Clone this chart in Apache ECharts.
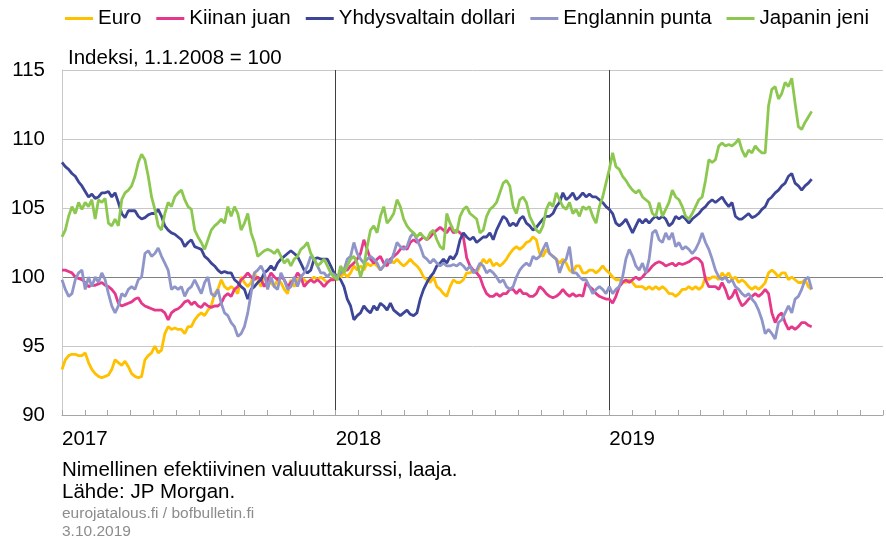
<!DOCTYPE html>
<html>
<head>
<meta charset="utf-8">
<script src="https://cdn.jsdelivr.net/npm/echarts@6/dist/echarts.min.js"></script>
<style>
  html, body { margin: 0; padding: 0; background: #fff; }
  #chart { width: 886px; height: 540px; }
</style>
</head>
<body>
<div id="chart"></div>
<script>
// x is in months from 1.1.2017, points roughly every 4.4 days
var stepMonths = 0.14545;
var yearLabels = ['2017', '2018', '2019'];
var seriesNames = ['Euro', 'Kiinan juan', 'Yhdysvaltain dollari', 'Englannin punta', 'Japanin jeni'];
var seriesColors = ['#ffc000', '#e5388a', '#3d4597', '#8f95c9', '#8cc84f'];

var euro = [
    93.3, 94.0, 94.3, 94.4, 94.4, 94.3, 94.3, 94.5, 93.8, 93.3, 93.0, 92.8, 92.7, 92.8, 92.9, 93.3, 94.0, 93.8, 93.6, 93.9, 93.5, 93.0, 92.8, 92.7, 92.8, 94.0, 94.3, 94.5, 95.0, 94.5, 94.7, 95.9, 96.4, 96.2, 96.3, 96.2, 96.2, 95.9, 96.4,
    96.4, 96.9, 97.2, 97.4, 97.2, 97.6, 97.9, 98.8, 99.1, 99.8, 99.3, 99.1, 99.3, 99.1, 98.8, 100.0, 99.6, 99.3, 99.6, 100.3, 99.8, 99.3, 100.0, 99.8, 99.6, 99.3, 99.8, 99.6, 99.1, 98.8, 99.8, 99.3, 99.8, 100.0, 99.8, 99.6, 99.8, 100.0, 99.8, 100.0,
    99.8, 99.6, 99.8, 100.0, 99.8, 100.0, 100.3, 100.0, 100.3, 100.8, 100.5, 100.8, 100.5, 101.0, 100.8, 101.0, 100.8, 100.5, 100.8, 101.0, 101.3, 101.0, 101.3, 101.0, 100.8, 101.0, 101.3, 101.0, 100.8, 100.5, 100.0, 99.8, 99.6, 100.0, 99.3, 99.1, 98.8, 98.6, 99.3, 99.8, 99.6,
    99.6, 99.8, 100.3, 100.3, 100.5, 100.3, 100.8, 101.3, 101.0, 101.3, 100.8, 101.0, 100.8, 101.0, 101.3, 101.7, 102.0, 102.2, 102.0, 102.2, 102.5, 102.6, 102.9, 102.7, 101.7, 101.5, 102.0, 101.7, 101.5, 101.3, 101.0, 101.3, 101.0, 100.5, 100.3, 100.8, 100.8, 100.3, 100.3, 100.5,
    100.5, 100.3, 100.5, 100.8, 100.5, 100.3, 100.0, 99.8, 99.8, 99.7, 99.6, 99.8, 99.6, 99.3, 99.3, 99.3, 99.1, 99.3, 99.1, 99.3, 99.1, 99.3, 99.1, 98.8, 98.8, 98.6, 98.8, 99.1, 99.1, 99.3, 99.1, 99.3, 99.1, 99.3, 100.0, 99.8, 100.0, 100.0,
    99.8, 100.3, 100.0, 100.3, 99.8, 100.0, 99.6, 99.8, 99.6, 99.3, 99.1, 99.3, 99.1, 99.3, 99.6, 100.3, 100.5, 100.3, 100.0, 100.3, 100.3, 99.8, 100.0, 99.8, 99.6, 99.6, 99.8, 99.3, 99.1
];

var juan = [
    100.5, 100.5, 100.4, 100.3, 100.0, 99.9, 99.8, 99.6, 99.3, 99.4, 99.4, 99.5, 99.6, 99.4, 99.3, 99.1, 98.8, 98.1, 97.9, 98.0, 98.1, 98.2, 98.4, 98.5, 98.1, 97.9, 97.8, 97.7, 97.6, 97.6, 97.6, 97.4, 96.9, 97.4, 97.6, 97.7, 97.9, 98.2, 98.3,
    98.0, 98.2, 97.9, 97.8, 98.1, 97.9, 97.8, 97.9, 97.9, 98.1, 98.6, 98.8, 98.6, 99.1, 99.3, 99.8, 100.0, 100.3, 100.0, 99.8, 100.0, 99.8, 99.3, 99.8, 100.3, 100.0, 99.8, 100.0, 99.8, 99.3, 99.6, 99.8, 100.3, 100.0, 99.3, 99.6, 99.8, 99.6, 99.8, 99.6,
    99.3, 99.6, 99.8, 99.8, 100.0, 100.3, 100.5, 100.5, 100.8, 101.0, 101.3, 101.7, 102.7, 102.0, 101.3, 101.0, 101.3, 101.5, 101.0, 100.8, 101.3, 101.5, 101.7, 102.0, 102.2, 102.0, 102.5, 102.7, 102.5, 102.7, 102.9, 102.7, 102.9, 103.2, 103.4, 103.6, 103.4, 103.2, 103.6, 103.2, 103.4,
    103.2, 102.9, 101.4, 100.8, 100.5, 100.3, 100.0, 99.3, 98.8, 98.6, 98.6, 98.8, 98.6, 98.8, 98.8, 99.1, 99.1, 98.8, 99.1, 98.8, 98.8, 98.6, 98.6, 98.8, 99.3, 99.1, 98.8, 98.6, 98.5, 98.6, 98.8, 99.1, 98.8, 98.6, 98.8, 98.6, 98.7, 98.6, 99.6, 99.3,
    99.1, 98.8, 98.6, 98.5, 98.4, 98.4, 98.1, 98.6, 99.3, 99.6, 99.8, 99.6, 99.8, 100.0, 99.8, 100.0, 100.3, 100.5, 100.8, 101.0, 101.1, 101.0, 100.8, 100.9, 101.0, 100.8, 101.0, 100.9, 101.0, 101.1, 101.3, 101.4, 101.3, 101.0, 99.8, 99.3, 99.3, 99.3,
    99.1, 99.6, 99.1, 98.4, 98.6, 99.1, 98.4, 97.9, 98.1, 98.4, 98.6, 98.8, 98.6, 98.8, 99.1, 98.8, 97.4, 96.7, 97.2, 97.4, 96.7, 96.2, 96.4, 96.2, 96.4, 96.7, 96.7, 96.5, 96.4
];

var dollari = [
    108.3, 108.0, 107.8, 107.5, 107.3, 106.9, 106.6, 106.2, 105.8, 106.0, 105.7, 105.8, 106.1, 106.1, 106.2, 105.8, 106.1, 105.4, 104.6, 104.3, 104.8, 104.8, 104.8, 104.4, 104.2, 104.3, 104.5, 104.6, 104.6, 104.9, 104.4, 103.7, 103.4, 103.2, 103.1, 102.9, 102.7, 102.2, 102.5,
    102.7, 102.2, 102.1, 102.0, 101.5, 101.3, 101.0, 100.8, 100.5, 100.3, 100.4, 100.3, 100.3, 99.8, 99.6, 99.3, 99.1, 98.4, 99.1, 99.3, 99.6, 99.8, 100.3, 100.5, 100.8, 100.5, 101.0, 101.3, 101.5, 101.7, 101.9, 101.7, 101.5, 101.0, 100.5, 100.3, 100.5, 101.3, 101.4, 101.3,
    101.3, 101.3, 100.8, 100.3, 100.0, 99.8, 99.3, 98.4, 97.9, 96.9, 97.2, 97.4, 97.9, 97.6, 97.4, 97.9, 97.6, 98.1, 97.9, 97.6, 98.1, 97.6, 97.4, 97.2, 97.4, 97.6, 97.3, 97.2, 97.4, 98.4, 99.1, 99.6, 100.0, 100.3, 100.8, 101.0, 101.3, 101.0, 101.5, 101.3, 101.7,
    102.7, 103.2, 102.9, 102.7, 102.9, 102.5, 102.7, 102.9, 102.9, 103.2, 102.7, 103.4, 103.9, 104.4, 104.2, 103.7, 103.9, 103.7, 104.2, 104.4, 103.9, 103.7, 103.4, 103.6, 103.9, 104.2, 104.4, 104.4, 104.6, 105.1, 105.4, 106.1, 105.6, 105.8, 106.1, 105.6, 105.8, 106.1, 105.8, 106.0,
    105.8, 105.8, 105.6, 105.4, 105.1, 104.9, 104.6, 103.9, 103.7, 103.9, 104.2, 103.7, 103.2, 103.7, 104.2, 103.9, 104.2, 103.9, 104.2, 104.4, 104.2, 104.4, 104.2, 103.7, 103.9, 104.4, 104.2, 104.4, 104.2, 103.9, 104.2, 104.4, 104.6, 104.9, 105.1, 105.4, 105.6, 105.4,
    105.6, 105.8, 105.4, 105.1, 105.4, 104.4, 104.2, 104.2, 104.4, 104.6, 104.3, 104.4, 104.6, 104.9, 105.1, 105.6, 105.8, 106.1, 106.3, 106.6, 106.8, 107.3, 107.5, 106.8, 106.6, 106.3, 106.6, 106.8, 107.1
];

var punta = [
    99.8, 99.1, 98.6, 98.8, 99.8, 100.3, 100.5, 99.1, 100.0, 99.3, 100.0, 99.6, 100.3, 99.8, 98.8, 97.9, 97.4, 97.9, 98.8, 98.6, 99.1, 99.3, 99.1, 99.8, 100.0, 101.7, 101.9, 101.5, 101.7, 102.1, 101.5, 101.0, 100.5, 99.1, 99.3, 99.1, 99.3, 98.6, 99.1,
    99.3, 99.8, 99.3, 98.8, 99.6, 100.0, 98.8, 98.6, 99.1, 98.1, 97.4, 97.2, 96.7, 96.4, 95.7, 95.9, 96.4, 97.4, 98.8, 100.3, 100.5, 100.8, 100.3, 99.1, 100.0, 99.3, 99.1, 100.3, 99.8, 99.1, 99.3, 100.0, 99.3, 100.0, 100.3, 100.8, 101.5, 101.3, 100.8, 100.3,
    100.3, 100.0, 100.3, 100.2, 100.0, 100.3, 100.5, 101.3, 101.5, 102.5, 101.7, 101.3, 101.0, 101.3, 101.5, 101.3, 101.0, 100.5, 100.8, 101.3, 101.0, 101.7, 102.5, 102.2, 102.0, 102.2, 102.9, 103.2, 102.7, 102.2, 101.5, 101.3, 101.0, 101.3, 101.0, 100.8, 101.0, 100.8, 100.8, 100.9, 100.8,
    101.0, 100.8, 100.5, 100.8, 100.3, 100.5, 101.0, 100.8, 100.3, 100.5, 100.3, 100.0, 99.6, 99.8, 99.3, 99.1, 99.3, 100.0, 100.5, 100.8, 101.0, 100.8, 101.5, 101.3, 101.5, 102.0, 102.5, 101.7, 101.5, 101.3, 100.3, 101.0, 101.3, 102.2, 100.3, 100.3, 100.0, 99.8, 99.8, 99.3,
    98.8, 99.1, 99.3, 99.1, 98.8, 99.3, 98.8, 99.1, 99.3, 100.0, 101.3, 102.0, 101.5, 100.8, 100.5, 101.0, 100.3, 101.3, 103.2, 103.4, 102.7, 102.5, 103.2, 102.7, 103.2, 102.2, 102.5, 102.0, 102.2, 102.0, 101.7, 102.0, 102.5, 103.2, 102.5, 102.0, 101.3, 100.5,
    100.0, 99.8, 100.0, 99.6, 99.8, 99.3, 99.1, 98.8, 98.6, 98.8, 98.4, 98.1, 97.6, 96.9, 95.9, 96.2, 95.9, 95.5, 96.7, 96.9, 97.4, 97.9, 97.4, 98.4, 98.6, 99.1, 99.8, 100.0, 99.1
];

var jeni = [
    102.9, 103.4, 104.4, 105.1, 104.6, 105.4, 104.9, 105.4, 105.1, 105.6, 104.2, 105.6, 105.4, 105.7, 103.9, 103.7, 104.2, 103.7, 105.6, 106.1, 106.3, 106.6, 107.3, 108.3, 108.9, 108.5, 107.3, 105.8, 104.9, 103.7, 103.4, 104.6, 105.4, 105.1, 105.8, 106.1, 106.3, 105.6, 105.1,
    104.9, 103.4, 102.9, 102.5, 102.0, 102.7, 103.4, 103.7, 103.9, 104.2, 103.9, 105.1, 104.4, 105.1, 104.6, 103.4, 103.9, 104.6, 103.2, 102.5, 101.5, 101.7, 101.9, 102.0, 101.9, 101.7, 102.0, 101.5, 101.0, 101.3, 100.8, 101.3, 101.5, 102.0, 102.2, 102.5, 101.7, 101.3, 100.8, 101.0,
    101.3, 100.8, 100.3, 100.0, 99.8, 100.8, 100.3, 100.8, 101.3, 101.5, 101.0, 100.0, 100.8, 102.2, 103.4, 103.7, 103.2, 104.4, 105.1, 103.9, 104.2, 104.6, 105.6, 105.1, 104.2, 103.7, 103.4, 103.2, 102.9, 103.2, 102.9, 102.7, 103.2, 103.4, 102.7, 102.2, 102.0, 104.6, 103.9, 103.4, 103.2,
    104.4, 104.9, 105.1, 104.6, 104.4, 104.2, 103.2, 103.4, 104.4, 104.9, 105.1, 105.4, 106.1, 106.8, 107.0, 106.6, 105.1, 104.6, 105.6, 105.8, 105.4, 104.4, 103.9, 103.4, 103.2, 103.7, 104.9, 105.4, 105.1, 106.1, 105.6, 105.1, 104.9, 105.4, 104.6, 104.9, 104.4, 105.1, 104.9, 105.1,
    104.4, 103.9, 105.1, 105.8, 106.8, 107.8, 109.0, 108.0, 107.8, 107.3, 107.0, 106.6, 106.3, 106.1, 106.3, 105.8, 105.6, 105.4, 104.6, 104.4, 105.4, 104.4, 104.9, 105.4, 106.3, 105.8, 105.6, 105.1, 104.4, 104.2, 104.6, 105.1, 105.6, 105.8, 107.0, 108.5, 108.3, 108.5,
    109.5, 109.7, 109.5, 109.6, 109.5, 109.7, 110.0, 109.2, 108.7, 109.2, 109.0, 109.5, 109.2, 109.0, 109.0, 112.4, 113.6, 113.8, 112.9, 113.3, 114.1, 113.8, 114.4, 112.6, 110.9, 110.7, 111.2, 111.6, 112.0
];

var font = 'Liberation Sans, Arial, sans-serif';

function toPoints(values){
    let points = [];
    for(let i = 0, len = values.length; i < len; i++){
        points.push([i * stepMonths, values[i]]);
    }
    return points;
}

var allValues = [euro, juan, dollari, punta, jeni];
var series = [];
for(let i = 0; i < allValues.length; i++){
    series.push({
        name: seriesNames[i],
        type: 'line',
        data: toPoints(allValues[i]),
        showSymbol: false,
        lineStyle: { width: 2.8, color: seriesColors[i] },
        itemStyle: { color: seriesColors[i] }
    });
}

var option = {
    animation: false,
    textStyle: { fontFamily: font },
    title: {
        text: 'Indeksi, 1.1.2008 = 100',
        left: 63,
        top: 43,
        textStyle: { fontSize: 20.5, fontWeight: 'normal', color: '#000', fontFamily: font }
    },
    legend: {
        data: seriesNames,
        left: 60,
        top: 3,
        icon: 'rect',
        itemWidth: 28,
        itemHeight: 3,
        itemGap: 15,
        textStyle: { fontSize: 20.5, color: '#000', fontFamily: font }
    },
    grid: {
        left: 62,
        right: 0,
        top: 70,
        bottom: 125
    },
    xAxis: [
        {
            type: 'value',
            min: 0,
            max: 36,
            interval: 1,
            axisLine: { show: true, lineStyle: { color: '#a6a6a6', width: 1 } },
            axisTick: { show: true, inside: true, length: 5, lineStyle: { color: '#a6a6a6' } },
            axisLabel: {
                align: 'left',
                margin: 14,
                fontSize: 20.5,
                color: '#000',
                fontFamily: font,
                formatter: function(v){
                    if(v % 12 == 0 && v / 12 < yearLabels.length){
                        return yearLabels[v / 12];
                    }
                    return '';
                }
            },
            splitLine: { show: false }
        },
        {
            type: 'value',
            min: 0,
            max: 36,
            interval: 12,
            position: 'bottom',
            axisLine: { show: false },
            axisTick: { show: false },
            axisLabel: { show: false },
            splitLine: {
                show: true,
                showMinLine: false,
                showMaxLine: false,
                lineStyle: { color: '#404040', width: 1 }
            }
        }
    ],
    yAxis: {
        type: 'value',
        min: 90,
        max: 115,
        interval: 5,
        axisLine: { show: true, lineStyle: { color: '#c8c8c8' } },
        axisTick: { show: false },
        axisLabel: { margin: 17, fontSize: 20.5, color: '#000', fontFamily: font },
        splitLine: {
            lineStyle: {
                color: ['#c8c8c8', '#c8c8c8', '#808080', '#c8c8c8', '#c8c8c8', '#c8c8c8'],
                width: 1
            }
        }
    },
    graphic: [
        { type: 'text', left: 62, top: 460, style: { text: 'Nimellinen efektiivinen valuuttakurssi, laaja.', font: '20.5px ' + font, fill: '#000' } },
        { type: 'text', left: 62, top: 482, style: { text: 'Lähde: JP Morgan.', font: '20.5px ' + font, fill: '#000' } },
        { type: 'text', left: 62, top: 506, style: { text: 'eurojatalous.fi / bofbulletin.fi', font: '15.5px ' + font, fill: '#8c8c8c' } },
        { type: 'text', left: 62, top: 524, style: { text: '3.10.2019', font: '15.5px ' + font, fill: '#8c8c8c' } }
    ],
    series: series
};

var myChart = echarts.init(document.getElementById('chart'));
myChart.setOption(option);
</script>
</body>
</html>
